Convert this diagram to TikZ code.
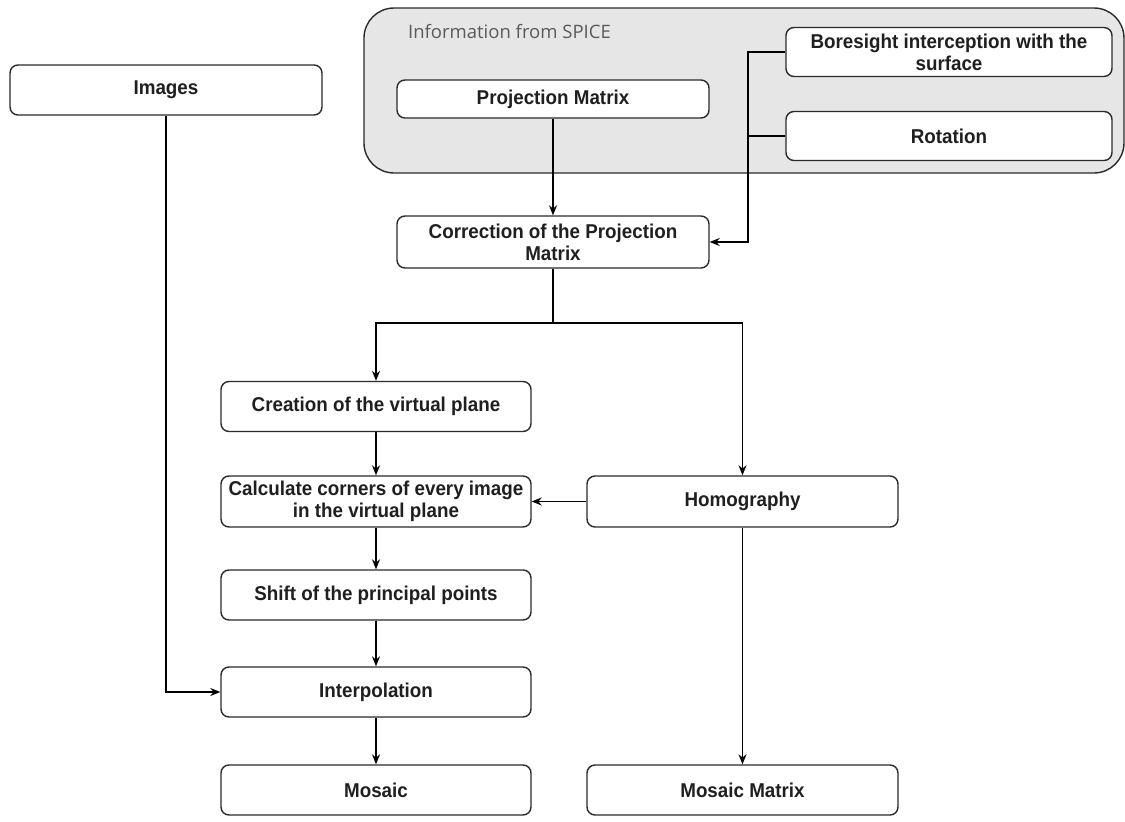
\documentclass[tikz,border=0pt]{standalone}
\usepackage{fontspec}
\setmainfont{Liberation Sans}[FakeStretch=0.94]
\newfontfamily\infofont{Open Sans}
\usetikzlibrary{arrows.meta,calc}
\definecolor{edge}{HTML}{2A2A2A}
\definecolor{panel}{HTML}{E6E6E6}
\definecolor{infotext}{HTML}{5A5A5A}
\begin{document}
\begin{tikzpicture}[x=1pt,y=-1pt,
  box/.style={draw=edge,line width=1.4pt,rounded corners=8pt,fill=white,
    minimum width=310pt,minimum height=50pt,inner sep=2pt,align=center,
    font=\fontsize{20}{22}\selectfont\bfseries,text=black!88},
  conn/.style={draw=black,line width=1.3pt},
  arr/.style={conn,-{Stealth[length=10pt,width=8pt]}}]
\useasboundingbox (0,0) rectangle (1125,822);
% SPICE panel
\node[draw=edge,line width=1.4pt,fill=panel,rounded corners=30pt,
  minimum width=760pt,minimum height=165pt,inner sep=0pt] (panel) at (744,90.5) {};
\node[anchor=west,inner sep=0pt,font=\infofont\fontsize{18.5}{21}\selectfont,text=infotext] (info) at (408,32) {Information from SPICE};
% nodes
\node[box,minimum width=312pt] (images) at (166,90) {Images};
\node[box,minimum width=312pt,minimum height=38pt] (proj) at (553,99) {Projection Matrix};
\node[box,minimum width=326pt,minimum height=49pt] (bore) at (949,52) {Boresight interception with the\\surface};
\node[box,minimum width=326pt,minimum height=49pt] (rot) at (949,136) {Rotation};
\node[box,minimum width=312pt,minimum height=52pt] (corr) at (553,242) {Correction of the Projection\\Matrix};
\node[box] (create) at (376,406.5) {Creation of the virtual plane};
\node[box,minimum height=51pt] (calc) at (376,501.5) {Calculate corners of every image\\in the virtual plane};
\node[box,minimum width=311pt,minimum height=51pt] (homo) at (742.5,501.5) {Homography};
\node[box] (shift) at (376,595) {Shift of the principal points};
\node[box] (interp) at (376,692) {Interpolation};
\node[box] (mosaic) at (376,790) {Mosaic};
\node[box,minimum width=311pt] (mosmat) at (742.5,790) {Mosaic Matrix};
% connectors
\coordinate (j) at (748,0);
\coordinate (split) at (553,323);
\draw[arr] (proj) -- (corr);
\draw[arr] (bore.west) -- (bore.west -| j) |- (corr.east);
\draw[conn] (rot.west) -- (rot.west -| j);
\draw[conn] (corr.south) -- (split);
\draw[arr] (split) -| (create.north);
\draw[arr] (split) -| (homo.north);
\draw[arr] (create) -- (calc);
\draw[arr] (calc) -- (shift);
\draw[arr] (shift) -- (interp);
\draw[arr] (interp) -- (mosaic);
\draw[arr] (homo) -- (calc);
\draw[arr] (homo) -- (mosmat);
\draw[arr] (images.south) |- (interp.west);
\end{tikzpicture}
\end{document}
